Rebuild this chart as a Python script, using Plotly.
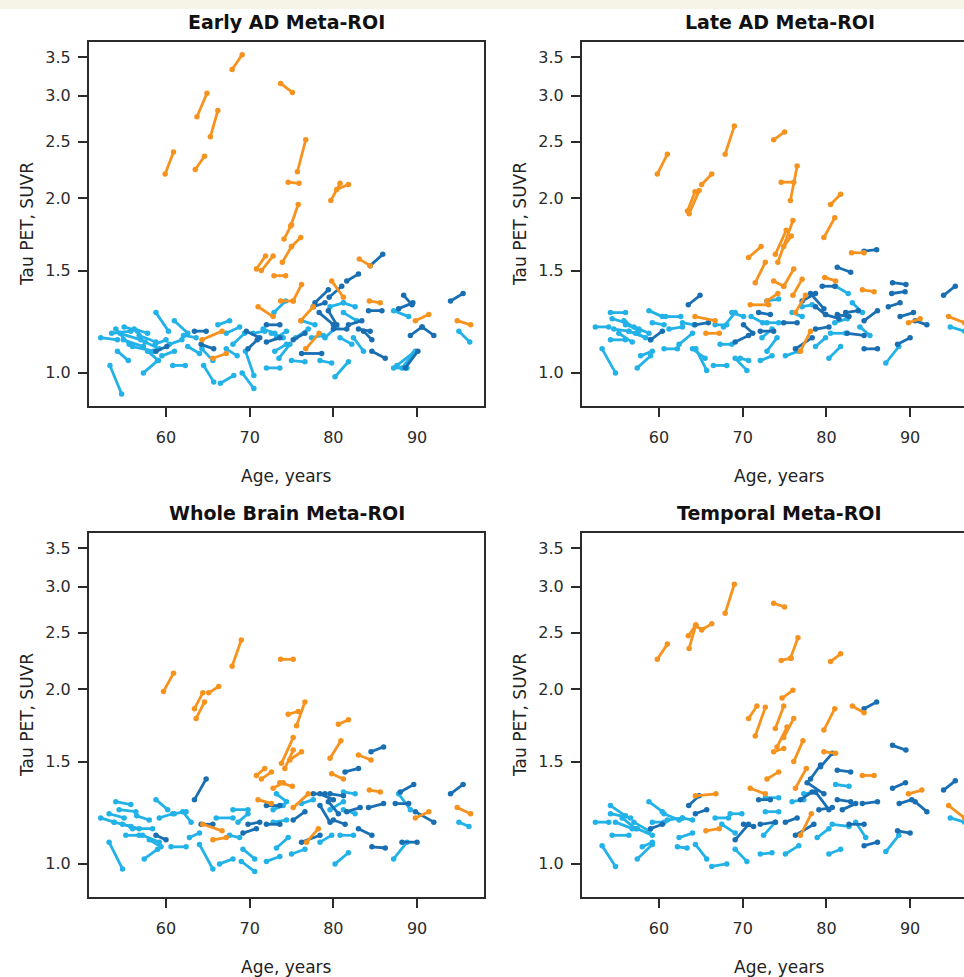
import plotly.graph_objects as go
import math

# ---------------- data: (age_start, age_end, suvr_start, suvr_end) ----------------
PANEL_TITLES = ["Early AD Meta-ROI", "Late AD Meta-ROI", "Whole Brain Meta-ROI", "Temporal Meta-ROI"]
X_TICKS = [60, 70, 80, 90]
Y_TICKS = [1.0, 1.5, 2.0, 2.5, 3.0, 3.5]

EARLY_LIGHT = [
    (52.2, 54.2, 1.15, 1.14), (53.5, 55.8, 1.17, 1.18), (54.0, 55.6, 1.19, 1.12), (54.5, 57.0, 1.17, 1.14),
    (54.9, 57.3, 1.14, 1.11), (54.2, 55.5, 1.09, 1.05), (53.3, 54.7, 1.03, 0.92), (56.0, 58.5, 1.11, 1.09),
    (56.8, 58.8, 1.16, 1.13), (57.8, 59.1, 1.09, 1.05), (57.3, 59.0, 1.00, 1.05), (58.8, 60.3, 1.27, 1.18),
    (58.7, 60.0, 1.12, 1.14), (60.8, 62.3, 1.03, 1.03), (61.0, 62.6, 1.23, 1.17), (60.4, 61.9, 1.12, 1.14),
    (62.1, 63.6, 1.16, 1.15), (62.6, 64.0, 1.11, 1.08), (64.5, 65.7, 1.03, 0.965), (66.5, 68.1, 0.96, 0.99),
    (69.1, 70.5, 1.00, 0.94), (64.3, 65.6, 1.10, 1.05), (67.2, 68.5, 1.10, 1.07), (66.2, 67.6, 1.21, 1.23),
    (67.2, 68.8, 1.17, 1.20), (68.0, 69.4, 1.12, 1.17), (69.5, 70.5, 1.09, 0.99), (70.4, 71.8, 1.17, 1.18),
    (71.6, 73.0, 1.19, 1.17), (72.6, 74.0, 1.17, 1.15), (72.9, 74.3, 1.27, 1.33), (73.2, 74.4, 1.15, 1.18),
    (73.0, 74.4, 1.09, 1.12), (72.0, 73.6, 1.02, 1.02), (75.0, 76.6, 1.05, 1.045), (76.2, 77.8, 1.23, 1.21),
    (77.4, 78.8, 1.15, 1.16), (78.4, 79.8, 1.05, 1.04), (80.2, 81.8, 0.985, 1.045), (79.6, 81.2, 1.30, 1.32),
    (81.2, 82.6, 1.32, 1.30), (81.2, 82.8, 1.27, 1.23), (80.8, 82.2, 1.15, 1.12), (82.4, 83.6, 1.15, 1.09),
    (87.2, 88.8, 1.02, 1.02), (87.6, 89.8, 1.03, 1.09), (88.2, 89.6, 1.02, 1.08), (87.2, 89.0, 1.28, 1.25),
    (95.0, 96.3, 1.18, 1.13), (56.2, 57.8, 1.19, 1.17), (75.5, 77.0, 1.15, 1.19), (79.0, 80.4, 1.15, 1.20),
    (73.5, 74.8, 1.06, 1.12), (55.0, 56.6, 1.20, 1.18), (57.5, 59.2, 1.13, 1.10), (59.5, 61.0, 1.07, 1.09),
]
EARLY_DARK = [
    (84.4, 85.9, 1.53, 1.60), (81.6, 83.0, 1.44, 1.48), (79.5, 81.0, 1.35, 1.41), (77.8, 79.4, 1.32, 1.39),
    (77.6, 79.0, 1.30, 1.32), (78.3, 80.0, 1.27, 1.21), (79.4, 80.4, 1.28, 1.21), (80.0, 81.6, 1.19, 1.19),
    (81.8, 83.4, 1.21, 1.23), (83.0, 84.4, 1.19, 1.18), (83.6, 84.6, 1.18, 1.14), (84.2, 85.8, 1.28, 1.28),
    (87.8, 89.5, 1.29, 1.32), (88.4, 89.4, 1.36, 1.31), (94.0, 95.5, 1.33, 1.37), (89.2, 90.6, 1.16, 1.20),
    (90.6, 92.0, 1.20, 1.16), (84.6, 86.2, 1.09, 1.06), (88.6, 90.1, 1.02, 1.09), (76.2, 78.6, 1.08, 1.08),
    (75.2, 76.6, 1.14, 1.17), (72.0, 73.6, 1.21, 1.21), (69.6, 71.2, 1.18, 1.15), (69.8, 70.9, 1.10, 1.14),
    (72.0, 73.6, 1.13, 1.15), (63.4, 64.8, 1.18, 1.18), (64.2, 65.7, 1.12, 1.10), (58.8, 60.1, 1.09, 1.11),
]
EARLY_ORANGE = [
    (59.9, 60.9, 2.20, 2.40), (63.5, 64.6, 2.24, 2.36), (63.7, 64.9, 2.76, 3.03), (65.3, 66.2, 2.55, 2.83),
    (67.9, 69.1, 3.33, 3.53), (73.7, 75.1, 3.15, 3.04), (75.7, 76.7, 2.22, 2.52), (74.6, 75.9, 2.13, 2.12),
    (79.7, 80.8, 1.98, 2.12), (80.4, 81.8, 2.07, 2.11), (74.1, 75.0, 1.70, 1.80), (74.9, 75.8, 1.79, 1.95),
    (73.9, 75.0, 1.55, 1.65), (75.0, 76.1, 1.65, 1.71), (70.8, 71.9, 1.51, 1.59), (71.4, 72.8, 1.50, 1.59),
    (72.9, 74.3, 1.47, 1.47), (73.7, 75.2, 1.33, 1.33), (75.2, 76.2, 1.33, 1.42), (71.0, 72.8, 1.30, 1.25),
    (76.1, 77.6, 1.23, 1.30), (76.7, 78.3, 1.10, 1.17), (79.8, 81.2, 1.44, 1.35), (83.1, 84.4, 1.57, 1.53),
    (84.3, 85.6, 1.33, 1.32), (89.8, 91.4, 1.23, 1.26), (94.8, 96.4, 1.23, 1.21), (64.3, 66.7, 1.14, 1.18),
    (65.6, 67.2, 1.06, 1.08),
]

LATE_LIGHT = [
    (52.4, 54.0, 1.20, 1.20), (54.2, 56.0, 1.27, 1.27), (54.4, 56.0, 1.24, 1.22), (54.2, 56.0, 1.14, 1.14),
    (54.6, 56.4, 1.19, 1.18), (55.2, 56.8, 1.17, 1.13), (55.8, 57.6, 1.23, 1.18), (56.4, 58.4, 1.18, 1.15),
    (57.0, 58.8, 1.20, 1.17), (57.2, 59.0, 1.17, 1.14), (53.2, 54.8, 1.10, 1.00), (57.4, 59.0, 1.02, 1.07),
    (57.8, 59.2, 1.07, 1.09), (58.8, 60.4, 1.28, 1.25), (59.2, 60.6, 1.22, 1.21), (60.8, 62.6, 1.25, 1.25),
    (60.6, 62.2, 1.10, 1.10), (61.2, 62.8, 1.19, 1.20), (62.4, 64.0, 1.12, 1.17), (62.8, 64.2, 1.22, 1.21),
    (64.4, 65.7, 1.10, 1.01), (64.0, 65.5, 1.10, 1.06), (66.5, 68.1, 1.03, 1.03), (67.3, 68.7, 1.12, 1.12),
    (66.7, 68.1, 1.21, 1.21), (67.7, 69.1, 1.20, 1.27), (68.7, 70.1, 1.27, 1.25), (69.1, 70.5, 1.06, 1.01),
    (69.7, 70.7, 1.06, 1.05), (72.1, 73.5, 1.05, 1.07), (72.3, 73.5, 1.15, 1.19), (72.9, 74.1, 1.09, 1.15),
    (72.9, 74.3, 1.22, 1.22), (72.9, 74.3, 1.33, 1.34), (75.1, 76.7, 1.07, 1.09), (75.9, 77.1, 1.27, 1.25),
    (77.1, 78.3, 1.30, 1.31), (78.7, 79.9, 1.11, 1.15), (80.3, 81.7, 1.06, 1.11), (80.5, 82.3, 1.17, 1.17),
    (81.1, 82.6, 1.41, 1.37), (83.1, 84.3, 1.32, 1.27), (87.1, 88.65, 1.04, 1.11), (94.8, 96.5, 1.20, 1.18),
    (71.0, 72.4, 1.25, 1.22), (81.0, 82.5, 1.22, 1.24), (84.0, 85.2, 1.20, 1.16), (56.0, 57.6, 1.21, 1.19),
]
LATE_DARK = [
    (84.5, 86.0, 1.62, 1.63), (81.3, 82.9, 1.52, 1.49), (79.5, 81.0, 1.41, 1.41), (77.1, 78.7, 1.33, 1.37),
    (78.1, 79.7, 1.37, 1.29), (78.7, 79.9, 1.30, 1.26), (79.9, 81.5, 1.26, 1.24), (81.3, 82.7, 1.26, 1.25),
    (82.3, 83.8, 1.27, 1.28), (82.5, 84.5, 1.17, 1.16), (84.5, 86.1, 1.10, 1.10), (84.5, 86.1, 1.23, 1.28),
    (87.4, 88.8, 1.30, 1.32), (87.9, 89.5, 1.43, 1.42), (87.8, 89.4, 1.37, 1.38), (94.0, 95.4, 1.36, 1.41),
    (88.8, 90.4, 1.25, 1.27), (90.6, 92.0, 1.23, 1.21), (88.5, 90.0, 1.12, 1.15), (63.5, 64.9, 1.31, 1.36),
    (64.3, 65.9, 1.21, 1.22), (69.1, 70.7, 1.13, 1.16), (70.1, 71.2, 1.21, 1.17), (71.9, 73.3, 1.27, 1.26),
    (72.1, 73.7, 1.18, 1.18), (74.9, 76.5, 1.22, 1.22), (76.3, 78.3, 1.10, 1.15), (78.7, 80.3, 1.19, 1.20),
    (59.0, 60.4, 1.14, 1.18),
]
LATE_ORANGE = [
    (59.8, 61.0, 2.20, 2.38), (63.4, 64.3, 1.90, 2.05), (63.6, 64.8, 1.88, 2.06), (65.1, 66.3, 2.11, 2.20),
    (67.9, 69.0, 2.38, 2.66), (73.7, 75.0, 2.52, 2.60), (74.6, 76.1, 2.13, 2.13), (75.7, 76.5, 1.98, 2.27),
    (80.5, 81.7, 1.95, 2.03), (79.7, 81.0, 1.71, 1.85), (73.9, 75.2, 1.60, 1.76), (74.2, 76.0, 1.55, 1.83),
    (74.9, 75.8, 1.65, 1.72), (70.7, 72.2, 1.58, 1.65), (71.5, 72.7, 1.43, 1.55), (73.7, 74.9, 1.44, 1.41),
    (74.9, 76.1, 1.41, 1.51), (76.0, 77.1, 1.36, 1.45), (70.9, 73.1, 1.31, 1.31), (72.9, 74.2, 1.33, 1.37),
    (76.3, 77.5, 1.27, 1.36), (76.9, 78.1, 1.09, 1.18), (79.8, 81.1, 1.46, 1.44), (83.0, 84.5, 1.61, 1.61),
    (84.3, 85.7, 1.39, 1.38), (89.8, 91.2, 1.22, 1.24), (94.6, 96.5, 1.25, 1.22), (64.3, 66.7, 1.25, 1.23),
    (65.6, 67.2, 1.17, 1.17),
]

WHOLE_LIGHT = [
    (52.2, 53.8, 1.20, 1.18), (53.2, 55.0, 1.22, 1.20), (54.0, 55.8, 1.28, 1.265), (54.4, 56.4, 1.24, 1.23),
    (53.8, 55.8, 1.18, 1.16), (54.8, 56.8, 1.17, 1.15), (55.2, 56.8, 1.12, 1.12), (53.2, 54.8, 1.09, 0.98),
    (56.0, 58.4, 1.15, 1.15), (57.2, 59.2, 1.12, 1.09), (57.4, 59.0, 1.02, 1.06), (58.8, 60.2, 1.29, 1.24),
    (59.2, 60.8, 1.20, 1.22), (60.6, 62.4, 1.07, 1.07), (61.0, 62.4, 1.22, 1.23), (62.0, 63.0, 1.23, 1.18),
    (62.8, 64.0, 1.11, 1.13), (64.0, 65.6, 1.08, 0.98), (66.4, 68.0, 1.00, 1.02), (69.0, 70.6, 1.01, 0.97),
    (69.2, 70.6, 1.06, 1.02), (67.6, 68.8, 1.12, 1.11), (66.0, 68.0, 1.20, 1.20), (68.0, 69.8, 1.24, 1.24),
    (68.6, 69.8, 1.18, 1.22), (72.0, 73.6, 1.01, 1.03), (73.2, 74.6, 1.065, 1.11), (72.8, 74.4, 1.18, 1.19),
    (72.8, 74.0, 1.24, 1.26), (73.2, 74.4, 1.32, 1.28), (75.0, 76.6, 1.04, 1.06), (76.2, 77.6, 1.27, 1.29),
    (78.4, 79.8, 1.09, 1.12), (80.2, 81.8, 1.00, 1.045), (79.6, 81.2, 1.24, 1.28), (81.2, 82.6, 1.33, 1.32),
    (81.2, 82.6, 1.24, 1.22), (80.8, 82.4, 1.12, 1.12), (87.2, 88.8, 1.02, 1.09), (87.8, 89.2, 1.32, 1.24),
    (95.0, 96.2, 1.18, 1.16), (56.5, 58.0, 1.21, 1.19), (58.0, 59.4, 1.10, 1.07),
]
WHOLE_DARK = [
    (84.5, 86.0, 1.56, 1.59), (81.4, 83.0, 1.44, 1.46), (77.6, 79.0, 1.32, 1.32), (78.4, 80.0, 1.32, 1.29),
    (79.6, 81.2, 1.32, 1.31), (78.4, 79.6, 1.26, 1.18), (79.4, 80.6, 1.28, 1.22), (80.0, 81.4, 1.19, 1.17),
    (81.6, 83.2, 1.23, 1.25), (84.2, 86.0, 1.25, 1.27), (83.0, 84.6, 1.15, 1.12), (84.6, 86.2, 1.07, 1.065),
    (87.4, 89.0, 1.27, 1.27), (88.0, 89.6, 1.33, 1.37), (94.0, 95.5, 1.32, 1.37), (89.8, 92.0, 1.23, 1.18),
    (88.2, 90.0, 1.09, 1.09), (76.2, 78.4, 1.09, 1.12), (75.2, 76.6, 1.19, 1.23), (72.0, 73.6, 1.26, 1.26),
    (69.8, 71.2, 1.17, 1.18), (69.2, 70.8, 1.13, 1.15), (72.0, 73.6, 1.17, 1.17), (63.4, 64.8, 1.29, 1.40),
    (64.2, 65.6, 1.17, 1.17), (58.8, 60.0, 1.12, 1.10),
]
WHOLE_ORANGE = [
    (59.7, 60.9, 1.98, 2.13), (63.6, 64.6, 1.78, 1.90), (63.4, 64.4, 1.85, 1.97), (65.1, 66.3, 1.97, 2.02),
    (67.9, 69.0, 2.19, 2.43), (73.7, 75.2, 2.25, 2.25), (75.6, 76.6, 1.73, 1.90), (74.6, 75.8, 1.81, 1.83),
    (79.6, 80.9, 1.52, 1.63), (80.6, 81.8, 1.74, 1.77), (73.8, 75.2, 1.49, 1.65), (74.2, 75.2, 1.46, 1.57),
    (74.8, 76.2, 1.51, 1.56), (70.8, 71.8, 1.42, 1.46), (71.4, 72.6, 1.40, 1.44), (72.8, 74.0, 1.35, 1.38),
    (73.6, 75.1, 1.38, 1.36), (71.0, 72.6, 1.29, 1.27), (75.2, 77.0, 1.25, 1.32), (76.8, 78.2, 1.09, 1.15),
    (79.8, 81.2, 1.43, 1.40), (83.0, 84.5, 1.54, 1.51), (84.3, 85.6, 1.34, 1.33), (89.8, 91.4, 1.20, 1.23),
    (94.8, 96.4, 1.25, 1.22), (64.4, 66.7, 1.17, 1.14), (65.6, 67.2, 1.10, 1.11),
]

TEMPORAL_LIGHT = [
    (52.4, 54.0, 1.18, 1.18), (54.2, 56.0, 1.26, 1.21), (54.2, 56.6, 1.22, 1.20), (54.4, 56.4, 1.12, 1.12),
    (54.8, 56.8, 1.18, 1.15), (55.6, 57.2, 1.20, 1.15), (57.0, 58.8, 1.18, 1.14), (57.4, 59.2, 1.15, 1.12),
    (53.2, 54.8, 1.075, 0.99), (57.4, 59.2, 1.02, 1.08), (58.0, 59.2, 1.07, 1.09), (58.8, 60.4, 1.28, 1.23),
    (59.2, 60.6, 1.18, 1.18), (60.6, 62.4, 1.22, 1.19), (61.0, 62.8, 1.19, 1.20), (62.4, 64.0, 1.11, 1.13),
    (62.8, 64.0, 1.20, 1.19), (64.35, 65.7, 1.08, 1.02), (62.2, 63.35, 1.07, 1.065), (66.3, 68.1, 0.99, 1.00),
    (66.7, 68.3, 1.20, 1.20), (67.5, 69.1, 1.17, 1.13), (68.5, 69.9, 1.22, 1.22), (69.1, 70.5, 1.06, 1.01),
    (72.1, 73.5, 1.04, 1.045), (72.5, 73.9, 1.12, 1.18), (72.7, 74.3, 1.23, 1.23), (72.7, 74.3, 1.30, 1.30),
    (75.1, 76.7, 1.04, 1.075), (75.9, 77.3, 1.28, 1.29), (77.3, 78.7, 1.32, 1.33), (78.9, 80.3, 1.11, 1.15),
    (80.3, 81.7, 1.04, 1.06), (80.7, 82.7, 1.17, 1.16), (81.1, 82.7, 1.37, 1.36), (83.5, 84.7, 1.18, 1.11),
    (87.1, 88.65, 1.05, 1.12), (94.8, 96.5, 1.20, 1.18),
]
TEMPORAL_DARK = [
    (84.5, 86.0, 1.85, 1.90), (87.9, 89.5, 1.60, 1.57), (78.1, 79.3, 1.40, 1.48), (79.3, 80.7, 1.47, 1.55),
    (81.3, 82.9, 1.45, 1.44), (77.7, 79.7, 1.38, 1.32), (76.9, 78.3, 1.29, 1.33), (78.7, 80.3, 1.33, 1.24),
    (79.1, 80.7, 1.24, 1.25), (81.3, 82.9, 1.29, 1.28), (81.9, 83.5, 1.24, 1.27), (82.7, 84.5, 1.17, 1.17),
    (84.5, 86.1, 1.075, 1.09), (84.3, 86.1, 1.27, 1.28), (87.9, 89.45, 1.35, 1.38), (88.7, 90.2, 1.27, 1.29),
    (90.6, 92.0, 1.28, 1.23), (88.5, 90.0, 1.14, 1.13), (94.0, 95.4, 1.34, 1.39), (63.55, 64.8, 1.26, 1.31),
    (64.35, 65.7, 1.22, 1.24), (69.1, 70.7, 1.10, 1.17), (70.1, 71.3, 1.17, 1.16), (71.9, 73.3, 1.29, 1.29),
    (72.1, 73.9, 1.17, 1.18), (75.1, 76.5, 1.18, 1.20), (76.3, 78.5, 1.12, 1.17), (59.0, 60.4, 1.15, 1.17),
]
TEMPORAL_ORANGE = [
    (59.8, 61.0, 2.25, 2.39), (63.6, 64.4, 2.35, 2.58), (63.5, 64.35, 2.47, 2.57), (64.4, 65.1, 2.57, 2.53),
    (65.1, 66.3, 2.53, 2.59), (67.9, 69.0, 2.70, 3.03), (73.7, 75.0, 2.81, 2.77), (74.6, 75.8, 2.24, 2.26),
    (75.7, 76.6, 2.26, 2.45), (80.5, 81.7, 2.23, 2.30), (79.7, 81.0, 1.70, 1.85), (74.7, 76.0, 1.93, 1.99),
    (73.9, 74.9, 1.71, 1.87), (74.1, 75.3, 1.59, 1.72), (74.9, 76.1, 1.65, 1.78), (70.7, 71.7, 1.78, 1.87),
    (71.5, 72.7, 1.66, 1.86), (73.7, 74.9, 1.56, 1.58), (76.1, 77.2, 1.50, 1.63), (72.9, 74.3, 1.40, 1.44),
    (76.3, 77.6, 1.35, 1.46), (70.9, 72.7, 1.35, 1.32), (76.9, 78.2, 1.12, 1.22), (79.7, 81.1, 1.56, 1.55),
    (83.1, 84.5, 1.87, 1.82), (84.3, 85.7, 1.42, 1.42), (89.8, 91.4, 1.32, 1.34), (94.6, 96.5, 1.26, 1.20),
    (64.35, 66.8, 1.31, 1.32), (65.6, 67.2, 1.14, 1.15),
]

PANELS = [
    (EARLY_LIGHT, EARLY_DARK, EARLY_ORANGE),
    (LATE_LIGHT, LATE_DARK, LATE_ORANGE),
    (WHOLE_LIGHT, WHOLE_DARK, WHOLE_ORANGE),
    (TEMPORAL_LIGHT, TEMPORAL_DARK, TEMPORAL_ORANGE),
]

# ---------------- styling / layout ----------------
W, H = 964, 977
COLORS = ["#22B2E8", "#1A6FB3", "#F6931F"]
AXIS_COLOR = "#2b2b2b"
FONT = "DejaVu Sans, Liberation Sans, Arial, sans-serif"

# pixel boxes of the plotting areas (left, right, top, bottom)
BOX_W = 395
BOX_LEFT_X = (89, 484)
BOX_RIGHT_X = (582, 964)
BOX_TOP_Y = (42, 406)
BOX_BOT_Y = (533, 897)
X_RANGE_LEFT = [50.8, 98.0]
X_RANGE_RIGHT = [50.8, 50.8 + (BOX_RIGHT_X[1] - BOX_RIGHT_X[0]) / 8.37]
Y_RANGE = [math.log10(0.877), math.log10(3.713)]


def px_to_paper_x(p):
    return p / W


def px_to_paper_y(p):
    return 1 - p / H


def seg_xy(segs):
    xs, ys = [], []
    for a0, a1, v0, v1 in segs:
        xs += [a0, a1, None]
        ys += [v0, v1, None]
    return xs, ys


fig = go.Figure()

boxes = [
    (BOX_LEFT_X, BOX_TOP_Y, X_RANGE_LEFT, True),
    (BOX_RIGHT_X, BOX_TOP_Y, X_RANGE_RIGHT, False),
    (BOX_LEFT_X, BOX_BOT_Y, X_RANGE_LEFT, True),
    (BOX_RIGHT_X, BOX_BOT_Y, X_RANGE_RIGHT, False),
]

layout = dict(
    width=W, height=H,
    margin=dict(l=0, r=0, t=0, b=0),
    paper_bgcolor="white", plot_bgcolor="white",
    showlegend=False,
    font=dict(family=FONT, color=AXIS_COLOR, size=16),
)

annotations = []
for i, (groups, (bx, by, xr, full_box)) in enumerate(zip(PANELS, boxes)):
    n = "" if i == 0 else str(i + 1)
    xa, ya = "x" + n, "y" + n
    for segs, col in zip(groups, COLORS):
        xs, ys = seg_xy(segs)
        fig.add_trace(go.Scatter(
            x=xs, y=ys, mode="lines+markers", xaxis=xa, yaxis=ya,
            line=dict(color=col, width=2.8),
            marker=dict(color=col, size=5.5),
            hoverinfo="skip", connectgaps=False,
        ))
    layout["xaxis" + n] = dict(
        domain=[px_to_paper_x(bx[0]), px_to_paper_x(bx[1])],
        anchor=ya, range=xr, showgrid=False, zeroline=False,
        showline=True, mirror=True, linecolor=AXIS_COLOR, linewidth=2,
        ticks="outside", ticklen=9, tickwidth=1.5, tickcolor=AXIS_COLOR,
        tickvals=X_TICKS, ticktext=[str(t) for t in X_TICKS],
        tickfont=dict(size=16, color=AXIS_COLOR), ticklabelstandoff=7,
    )
    layout["yaxis" + n] = dict(
        domain=[px_to_paper_y(by[1]), px_to_paper_y(by[0])],
        anchor=xa, type="log", range=Y_RANGE, showgrid=False, zeroline=False,
        showline=True, mirror=full_box, linecolor=AXIS_COLOR, linewidth=2,
        ticks="outside", ticklen=9, tickwidth=1.5, tickcolor=AXIS_COLOR,
        tickvals=Y_TICKS, ticktext=["%.1f" % t for t in Y_TICKS],
        tickfont=dict(size=16, color=AXIS_COLOR), ticklabelstandoff=4,
    )
    cx = bx[0] + BOX_W / 2
    annotations.append(dict(
        text="<b>%s</b>" % PANEL_TITLES[i], x=px_to_paper_x(cx), y=px_to_paper_y(by[0] - 20),
        xref="paper", yref="paper", showarrow=False, xanchor="center", yanchor="middle",
        font=dict(size=19, color="#111111", family=FONT),
    ))
    annotations.append(dict(
        text="Age, years", x=px_to_paper_x(cx), y=px_to_paper_y(by[1] + 70),
        xref="paper", yref="paper", showarrow=False, xanchor="center", yanchor="middle",
        font=dict(size=17, color="#222222", family=FONT),
    ))
    annotations.append(dict(
        text="Tau PET, SUVR", x=px_to_paper_x(bx[0] - 62), y=px_to_paper_y((by[0] + by[1]) / 2),
        xref="paper", yref="paper", showarrow=False, xanchor="center", yanchor="middle",
        textangle=-90, font=dict(size=17, color="#222222", family=FONT),
    ))

layout["annotations"] = annotations
layout["shapes"] = [dict(
    type="rect", xref="paper", yref="paper", x0=0, x1=1, y0=px_to_paper_y(9), y1=1,
    fillcolor="#F6F3E7", line=dict(width=0), layer="below",
)]
fig.update_layout(**layout)
fig.write_html(
    "out.html",
    config={"displayModeBar": False},
    post_script="document.body.style.margin='0';document.body.style.padding='0';"
                "document.body.style.overflow='hidden';",
)
